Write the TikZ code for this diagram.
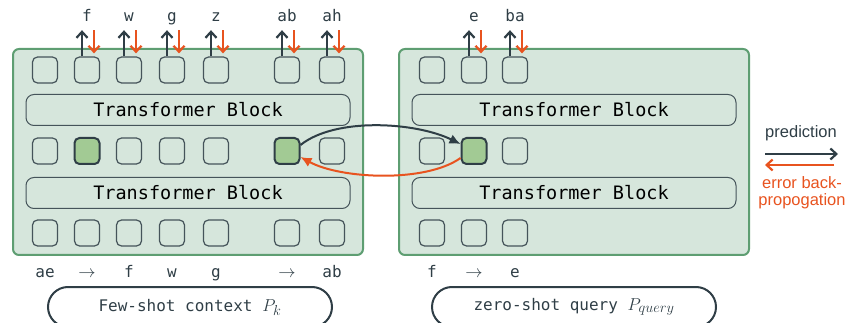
\documentclass[tikz,border=0pt]{standalone}
\usepackage{fontspec}
\setmonofont{DejaVu Sans Mono}
\setsansfont{Liberation Sans}
\usetikzlibrary{arrows.meta}

\definecolor{slate}{HTML}{2F3E46}
\definecolor{rust}{HTML}{E8531F}
\definecolor{panelfill}{HTML}{D6E6DC}
\definecolor{panelline}{HTML}{5E9E72}
\definecolor{actfill}{HTML}{A2CA94}
\definecolor{boxline}{HTML}{45545A}

\newcommand{\promptsym}[1]{{\fontsize{19}{20}\selectfont$#1$}}

\begin{document}
\begin{tikzpicture}[
        x=1pt, y=-1pt,
        font=\ttfamily\fontsize{16}{18}\selectfont,
        panel/.style={draw=panelline, line width=2pt, fill=panelfill,
                      rounded corners=6pt, minimum width=350pt,
                      minimum height=206pt, inner sep=0pt},
        block/.style={draw=boxline, line width=1pt, rounded corners=8pt,
                      minimum width=324pt, minimum height=31pt,
                      font=\ttfamily\fontsize{18.5}{20}\selectfont},
        tok/.style={draw=boxline, line width=1.2pt, rounded corners=5pt,
                    minimum width=25pt, minimum height=26pt, inner sep=0pt},
        act/.style={tok, draw=slate, line width=2pt, fill=actfill},
        word/.style={text=slate, anchor=base, text depth=0pt,
                     inner xsep=1pt, inner ysep=8pt},
        prompt/.style={draw=slate, line width=2pt, rounded corners=20pt,
                       minimum width=284pt, minimum height=40pt, text=slate},
        legend/.style={font=\sffamily\fontsize{16.5}{17}\selectfont, align=center},
        pred/.style={draw=slate, line width=2.2pt,
                     -{Straight Barb[length=6pt,width=11pt]}},
        grad/.style={draw=rust, line width=2.2pt,
                     -{Straight Barb[length=6pt,width=11pt]}},
        predarc/.style={draw=slate, line width=2pt,
                        -{Latex[length=11pt,width=10pt]}},
        gradarc/.style={draw=rust, line width=2pt,
                        -{Latex[length=11pt,width=10pt]}},
    ]

    \useasboundingbox (0,0) rectangle (849,323);

    % few-shot side
    \node[panel] (left) at (188,152) {};
    \node[block] (lblk1) at (188,110) {Transformer Block};
    \node[block] (lblk2) at (188,193) {Transformer Block};

    \foreach \x [count=\i] in {45,87,129,172,216,287,332} {
        \node[tok] (lt\i) at (\x,70) {};
        \node[tok] (lb\i) at (\x,233) {};
    }
    \foreach \i/\x in {1/45,3/129,4/172,5/216,7/332}
        \node[tok] (lm\i) at (\x,151) {};
    \node[act] (lm2) at (87,151) {};
    \node[act] (lm6) at (287,151) {};

    \foreach \i/\w in {2/f,3/w,4/g,5/z,6/ab,7/ah} {
        \node[word] (lo\i) at (lt\i |- 0,22) {\w};
        \draw[pred] ([xshift=-5pt]lt\i.north) -- ([xshift=-5pt]lt\i.north |- lo\i.south);
        \draw[grad, shorten >=3pt] ([xshift=7pt]lt\i.north |- lo\i.south) -- ([xshift=7pt]lt\i.north);
    }
    \foreach \i/\w in {1/ae,2/$\rightarrow$,3/f,4/w,5/g,6/$\rightarrow$,7/ab}
        \node[word] (li\i) at (lb\i |- 0,277) {\w};

    \node[prompt] (ctx) at (190,307) {Few-shot context \promptsym{P_k}};

    % zero-shot side
    \node[panel] (right) at (574,152) {};
    \node[block] (rblk1) at (574,110) {Transformer Block};
    \node[block] (rblk2) at (574,193) {Transformer Block};

    \foreach \x [count=\i] in {432,474,515} {
        \node[tok] (rt\i) at (\x,70) {};
        \node[tok] (rb\i) at (\x,233) {};
    }
    \node[tok] (rm1) at (432,151) {};
    \node[act] (rm2) at (474,151) {};
    \node[tok] (rm3) at (515,151) {};

    \foreach \i/\w in {2/e,3/ba} {
        \node[word] (ro\i) at (rt\i |- 0,22) {\w};
        \draw[pred] ([xshift=-5pt]rt\i.north) -- ([xshift=-5pt]rt\i.north |- ro\i.south);
        \draw[grad, shorten >=3pt] ([xshift=7pt]rt\i.north |- ro\i.south) -- ([xshift=7pt]rt\i.north);
    }
    \foreach \i/\w in {1/f,2/$\rightarrow$,3/e}
        \node[word] (ri\i) at (rb\i |- 0,277) {\w};

    \node[prompt] (qry) at (574,307) {zero-shot query \promptsym{P_{query}}};

    % hidden state copied across, error sent back
    \draw[predarc] ([yshift=6pt]lm6.east)
        .. controls +(35,-28) and +(-45,-22) .. ([yshift=7pt]rm2.west);
    \draw[gradarc] ([yshift=-7pt]rm2.west)
        .. controls +(-35,25) and +(40,22) .. ([yshift=-6pt]lm6.east);

    % legend
    \node[legend, text=slate] (predlab) at (801,133) {prediction};
    \coordinate (pa) at (765,154);
    \coordinate (pb) at (838,154);
    \draw[pred] (pa) -- (pb);
    \coordinate (ga) at (834,165);
    \coordinate (gb) at (765,165);
    \draw[grad] (ga) -- (gb);
    \node[legend, text=rust] (gradlab) at (802,193) {error back-\\propogation};

\end{tikzpicture}
\end{document}
